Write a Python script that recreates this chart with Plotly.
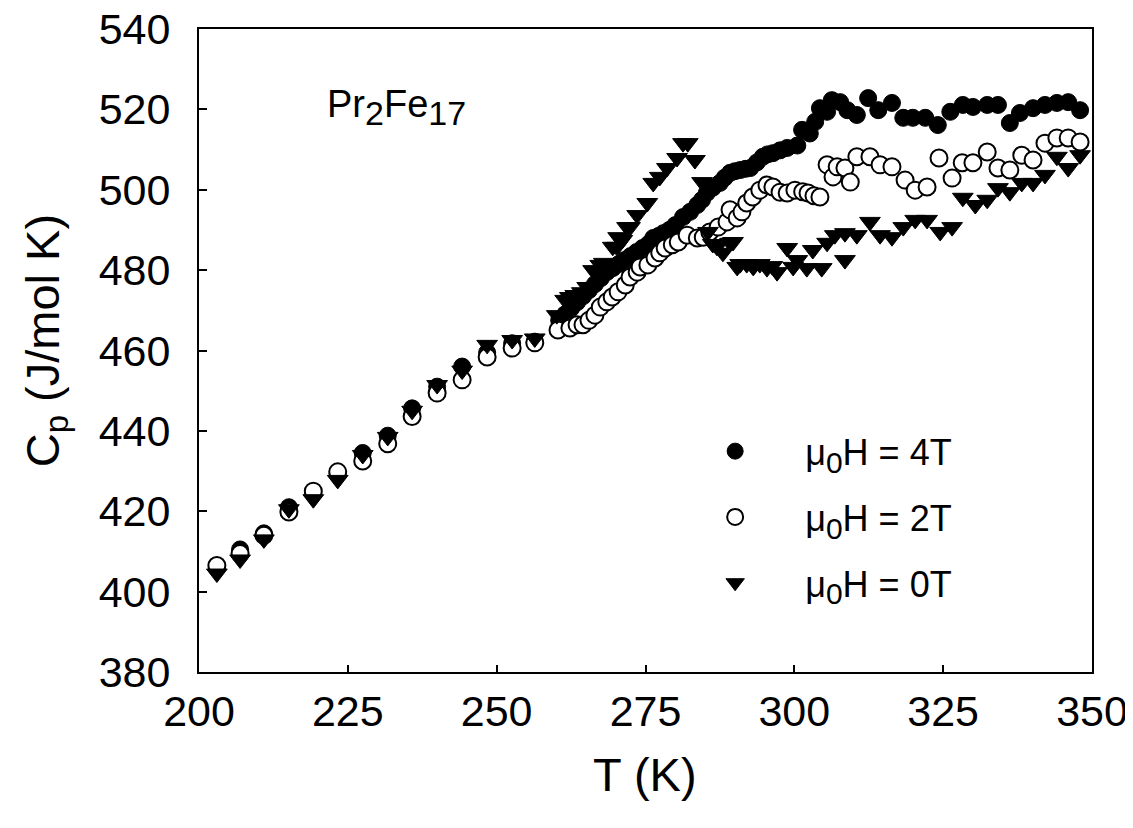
import plotly.graph_objects as go

# ---- data (T in K, Cp in J/mol K) ----
T_4T = [203.0, 206.9, 210.9, 215.1, 219.2, 223.3, 227.5, 231.7, 235.8, 240.0, 244.2, 248.4, 252.6, 256.4,
        260.5, 261.5, 262.5, 263.5, 264.5, 265.5, 266.5, 267.5, 268.5, 269.5, 270.5, 271.5, 272.5, 273.5,
        274.5, 275.5, 276.3, 277.2, 278.0, 279.0, 280.0, 281.3, 282.5, 283.7, 284.5, 285.3, 286.3, 287.5,
        288.3, 289.2, 290.0, 290.9, 291.8, 292.6, 293.7, 294.7, 295.5, 296.4, 297.6, 298.8, 300.5, 301.3,
        302.6, 303.5, 304.3, 305.5, 306.3, 307.7, 308.9, 310.5, 312.4, 314.1, 316.4, 318.3, 319.9, 322.0,
        324.1, 326.2, 328.3, 330.0, 332.4, 334.2, 336.2, 337.9, 340.1, 342.1, 344.1, 346.0, 348.0]
Cp_4T = [406.0, 410.5, 414.5, 421.0, 424.5, 429.3, 434.5, 438.8, 445.6, 451.0, 456.0, 459.5, 461.8, 462.2,
         467.5, 469.0, 470.5, 472.0, 473.5, 475.0, 476.5, 478.0, 479.5, 480.5, 481.5, 482.5, 483.5, 484.5,
         485.5, 486.5, 488.0, 488.5, 489.2, 490.0, 491.2, 493.2, 494.5, 496.2, 497.5, 499.2, 500.5, 501.7,
         503.0, 504.2, 504.6, 504.9, 505.2, 505.4, 506.8, 508.2, 508.8, 509.1, 509.8, 510.4, 511.0, 514.9,
         514.0, 516.9, 520.3, 519.4, 522.3, 521.8, 519.8, 518.6, 522.8, 519.8, 521.6, 517.9, 517.9, 517.9,
         516.1, 519.4, 521.1, 520.6, 521.1, 521.1, 516.6, 519.1, 520.3, 521.1, 521.6, 521.8, 519.8]

T_2T = [203.0, 206.9, 210.9, 215.1, 219.2, 223.3, 227.5, 231.7, 235.8, 240.0, 244.2, 248.4, 252.6, 256.4,
        260.3, 262.3, 263.5, 264.5, 265.5, 266.5, 267.4, 268.5, 269.4, 270.4, 271.6, 272.4, 273.6, 274.1,
        275.4, 276.6, 277.4, 278.3, 279.5, 280.5, 282.0, 283.7, 284.7, 285.8, 287.2, 288.7, 289.2, 290.4,
        291.2, 292.0, 293.0, 294.2, 295.4, 296.4, 297.6, 298.8, 300.1, 301.4, 302.3, 303.3, 304.3, 305.5,
        306.5, 307.2, 308.5, 309.4, 310.5, 312.7, 314.4, 316.4, 318.6, 320.3, 322.3, 324.3, 326.5, 328.2,
        330.0, 332.4, 334.2, 336.2, 338.2, 340.1, 342.1, 344.1, 346.0, 348.0]
Cp_2T = [406.5, 409.5, 414.0, 419.8, 425.0, 429.8, 432.5, 436.8, 443.6, 449.4, 452.7, 458.4, 460.6, 461.9,
         465.1, 465.6, 466.4, 466.4, 467.5, 468.8, 470.8, 472.1, 473.3, 474.6, 476.3, 478.3, 479.5, 480.8,
         481.3, 483.0, 484.3, 485.5, 486.3, 487.0, 488.7, 488.0, 488.2, 489.5, 490.7, 492.0, 495.0, 493.0,
         494.5, 496.7, 498.2, 499.9, 501.2, 500.7, 499.4, 499.2, 499.9, 499.5, 499.2, 498.5, 498.2, 506.2,
         503.2, 505.7, 505.4, 501.9, 508.2, 508.2, 506.2, 505.7, 502.4, 499.9, 500.7, 507.9, 502.9, 506.7,
         506.7, 509.4, 505.4, 504.9, 508.6, 507.4, 511.6, 512.9, 512.9, 511.9]

T_0T = [203.0, 206.9, 210.9, 215.1, 219.2, 223.3, 227.5, 231.7, 235.8, 240.0, 244.2, 248.4, 252.6, 256.4,
        260.1, 261.5, 262.3, 263.2, 264.3, 265.2, 266.2, 267.4, 268.0, 269.0, 269.5, 270.2, 270.4, 271.1,
        271.9, 272.4, 273.6, 275.3, 276.3, 277.4, 278.6, 280.3, 281.3, 282.1, 283.3, 284.5, 285.5, 286.3,
        287.0, 288.0, 289.2, 289.7, 290.4, 290.9, 292.0, 293.1, 294.2, 295.4, 296.3, 297.1, 298.8, 299.8,
        300.5, 302.1, 303.1, 304.6, 305.5, 306.8, 308.5, 308.5, 310.5, 312.7, 314.4, 316.4, 318.3, 320.3,
        322.3, 324.5, 326.5, 328.3, 330.4, 332.4, 334.2, 336.2, 338.2, 340.1, 342.1, 344.1, 346.0, 348.0]
Cp_0T = [404.5, 408.0, 413.0, 420.5, 423.0, 427.8, 434.0, 438.5, 445.0, 451.4, 455.0, 461.4, 462.6, 463.0,
         468.8, 472.6, 473.3, 473.8, 474.5, 475.8, 480.0, 481.3, 481.8, 480.8, 485.8, 485.8, 488.2, 487.5,
         490.7, 490.7, 493.7, 496.7, 501.7, 503.2, 505.4, 507.9, 511.6, 511.6, 507.4, 501.9, 489.5, 486.5,
         485.8, 484.3, 486.8, 487.0, 480.8, 481.5, 481.5, 480.8, 481.5, 480.5, 481.0, 479.5, 485.5, 480.8,
         482.5, 480.5, 485.0, 480.5, 486.8, 488.7, 482.5, 489.2, 488.7, 492.0, 488.7, 488.2, 490.7, 492.5,
         492.5, 489.5, 490.7, 498.0, 496.2, 497.5, 500.4, 499.4, 501.7, 501.7, 503.7, 508.2, 505.4, 508.6]

SUB0 = '<sub><span style="font-size:30px">0</span></sub>'
series_names = ["\u00a0" * 5 + "\u03bc" + SUB0 + "H = 4T",
                "\u00a0" * 5 + "\u03bc" + SUB0 + "H = 2T",
                "\u00a0" * 5 + "\u03bc" + SUB0 + "H = 0T"]

x_ticks = [200, 225, 250, 275, 300, 325, 350]
y_ticks = [380, 400, 420, 440, 460, 480, 500, 520, 540]

FONT = "Liberation Sans, Arial, sans-serif"

fig = go.Figure()
fig.add_trace(go.Scatter(x=T_4T, y=Cp_4T, mode="markers", name=series_names[0], legendgroup="a",
                         marker=dict(symbol="circle", size=17, color="black",
                                     line=dict(color="black", width=1))))
fig.add_trace(go.Scatter(x=T_2T, y=Cp_2T, mode="markers", name=series_names[1], legendgroup="b",
                         marker=dict(symbol="circle", size=17, color="white",
                                     line=dict(color="black", width=2))))
fig.add_trace(go.Scatter(x=T_0T, y=Cp_0T, mode="markers", name=series_names[2], legendgroup="c",
                         marker=dict(symbol="triangle-down", size=18, color="black",
                                     line=dict(color="black", width=1))))

fig.update_layout(
    width=1133, height=828,
    margin=dict(l=191, r=49, t=21, b=164, autoexpand=False),
    plot_bgcolor="white", paper_bgcolor="white",
    font=dict(family=FONT, color="black"),
    showlegend=True,
    legend=dict(x=0.578, y=0.39, xanchor="left", yanchor="top",
                font=dict(size=36, family=FONT, color="black"),
                bgcolor="rgba(0,0,0,0)", tracegroupgap=16,
                itemsizing="trace"),
    xaxis=dict(range=[200, 350], tickvals=x_ticks, ticktext=[str(v) for v in x_ticks],
               automargin=False, ticklabeloverflow="allow",
               showgrid=False, zeroline=False, showline=True, linecolor="black", linewidth=2,
               mirror=True, ticks="inside", ticklen=7, tickwidth=1.5, tickcolor="black",
               tickfont=dict(size=43, family=FONT, color="black")),
    yaxis=dict(range=[380, 540], tickvals=y_ticks, ticktext=[str(v) for v in y_ticks],
               automargin=False, ticklabeloverflow="allow",
               showgrid=False, zeroline=False, showline=True, linecolor="black", linewidth=2,
               mirror=True, ticks="inside", ticklen=8, tickwidth=1.5, tickcolor="black",
               ticklabelstandoff=18,
               tickfont=dict(size=43, family=FONT, color="black")),
    annotations=[
        dict(text='Pr<sub><span style="font-size:34px">2</span></sub>Fe'
                  '<sub><span style="font-size:34px">17</span></sub>',
             xref="paper", yref="paper", x=0.141, y=0.878,
             xanchor="left", yanchor="middle", showarrow=False,
             font=dict(size=38, family=FONT, color="black")),
        dict(text="C<sub>p</sub> (J/mol K)", xref="paper", yref="paper", x=-0.172, y=0.515,
             xanchor="center", yanchor="middle", textangle=-90, showarrow=False,
             font=dict(size=47, family=FONT, color="black")),
        dict(text="T (K)", xref="paper", yref="paper", x=0.4995, y=-0.16,
             xanchor="center", yanchor="middle", showarrow=False,
             font=dict(size=47, family=FONT, color="black")),
    ],
)

fig.write_html("out.html")
